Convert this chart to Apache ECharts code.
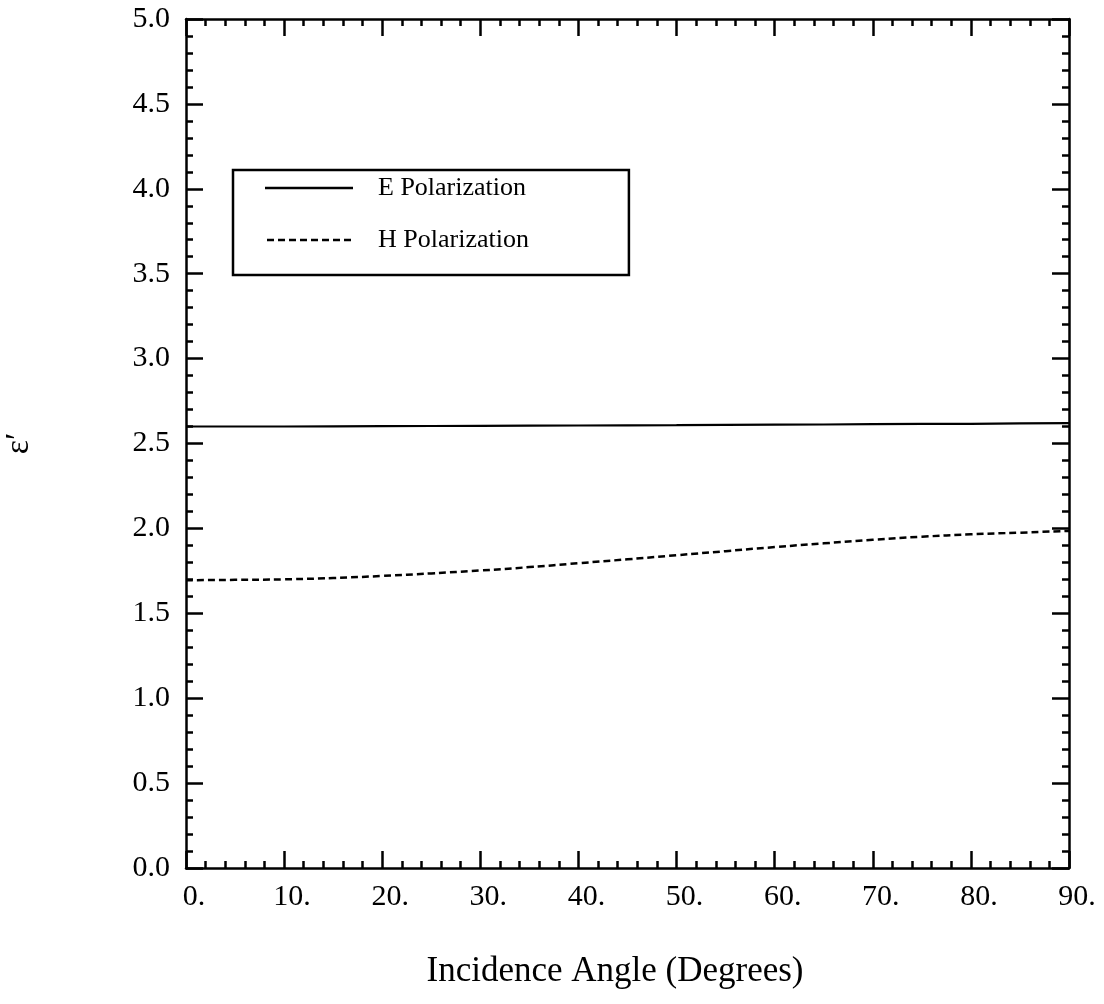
<!DOCTYPE html>
<html>
<head>
<meta charset="utf-8">
<script src="https://cdn.jsdelivr.net/npm/echarts@6/dist/echarts.min.js"></script>
<style>
html,body{margin:0;padding:0;background:#fff;}
#chart{width:1104px;height:1004px;}
</style>
</head>
<body>
<div id="chart"></div>
<script>
// Data
const angles = [0, 5, 10, 15, 20, 25, 30, 35, 40, 45, 50, 55, 60, 65, 70, 75, 80, 85, 90];
const ePolarization = [2.60, 2.60, 2.60, 2.601, 2.602, 2.603, 2.604, 2.605, 2.606, 2.607, 2.608, 2.61, 2.611, 2.612, 2.614, 2.615, 2.616, 2.618, 2.62];
const hPolarization = [1.695, 1.697, 1.70, 1.708, 1.72, 1.735, 1.752, 1.772, 1.795, 1.818, 1.842, 1.866, 1.89, 1.912, 1.933, 1.951, 1.965, 1.975, 1.985];
const seriesNames = ['E Polarization', 'H Polarization'];
const xTitle = 'Incidence Angle (Degrees)';
const yTitle = 'ε\u2032';

const FONT = '"Liberation Serif", "Times New Roman", "DejaVu Serif", serif';
const chart = echarts.init(document.getElementById('chart'));

function pairs(xs, ys){ return xs.map((x,i)=>[x, ys[i]]); }

// legend line icons (style only)
const ICON_W = 88, ICON_H = 2.5;
const solidIcon = 'path://M0,0h' + ICON_W + 'v' + ICON_H + 'h-' + ICON_W + 'z';
let dashPath = '';
for (let x = 0; x < ICON_W; x += 11) {
  const w = Math.min(7, ICON_W - x);
  dashPath += 'M' + x + ',0h' + w + 'v' + ICON_H + 'h-' + w + 'z';
}
const dashIcon = 'path://' + dashPath;

const tickCommon = {
  axisLine: {show: true, onZero: false, lineStyle: {color: '#000', width: 2.5}},
  axisTick: {show: true, inside: true, length: 17, lineStyle: {color: '#000', width: 2.5}},
  minorTick: {show: true, splitNumber: 5, length: 7, lineStyle: {color: '#000', width: 2.5}},
  splitLine: {show: false},
  minorSplitLine: {show: false}
};

chart.setOption({
  backgroundColor: '#fff',
  animation: false,
  grid: {left: 186, right: 35, top: 19, bottom: 136, containLabel: false, outerBoundsMode: 'none'},
  legend: {
    show: true,
    data: [
      {name: seriesNames[0], icon: solidIcon},
      {name: seriesNames[1], icon: dashIcon}
    ],
    orient: 'vertical',
    left: 233,
    top: 170,
    itemWidth: ICON_W,
    itemHeight: ICON_H,
    itemGap: 26,
    padding: [5, 100, 22, 32],
    borderColor: '#000',
    borderWidth: 2.5,
    itemStyle: {color: '#000'},
    textStyle: {fontFamily: FONT, fontSize: 26, color: '#000', padding: [0, 0, 0, 20]}
  },
  xAxis: [
    Object.assign({
      type: 'value', min: 0, max: 90, interval: 10, position: 'bottom',
      name: xTitle, nameLocation: 'middle', nameGap: 86,
      nameTextStyle: {fontFamily: FONT, fontSize: 35, color: '#000', padding: [0, 25, 0, 0]},
      axisLabel: {
        show: true, margin: 14, fontFamily: FONT, fontSize: 30, color: '#000',
        padding: [0, 0, 0, 16],
        formatter: v => String(Math.round(v)) + '.'
      }
    }, tickCommon),
    Object.assign({
      type: 'value', min: 0, max: 90, interval: 10, position: 'top',
      axisLabel: {show: false}
    }, tickCommon)
  ],
  yAxis: [
    Object.assign({
      type: 'value', min: 0, max: 5, interval: 0.5, position: 'left',
      name: yTitle, nameLocation: 'middle', nameGap: 150, nameRotate: 90,
      nameTextStyle: {fontFamily: FONT, fontSize: 34, color: '#000'},
      axisLabel: {
        show: true, margin: 16, fontFamily: FONT, fontSize: 30, color: '#000',
        formatter: v => v.toFixed(1)
      }
    }, tickCommon),
    Object.assign({
      type: 'value', min: 0, max: 5, interval: 0.5, position: 'right',
      axisLabel: {show: false}
    }, tickCommon)
  ],
  series: [
    {
      name: seriesNames[0], type: 'line', showSymbol: false, symbol: 'none',
      data: pairs(angles, ePolarization),
      lineStyle: {color: '#000', width: 2.2, type: 'solid'},
      itemStyle: {color: '#000'}
    },
    {
      name: seriesNames[1], type: 'line', showSymbol: false, symbol: 'none', smooth: true,
      data: pairs(angles, hPolarization),
      lineStyle: {color: '#000', width: 2.5, type: [7, 4]},
      itemStyle: {color: '#000'}
    }
  ]
});
</script>
</body>
</html>
